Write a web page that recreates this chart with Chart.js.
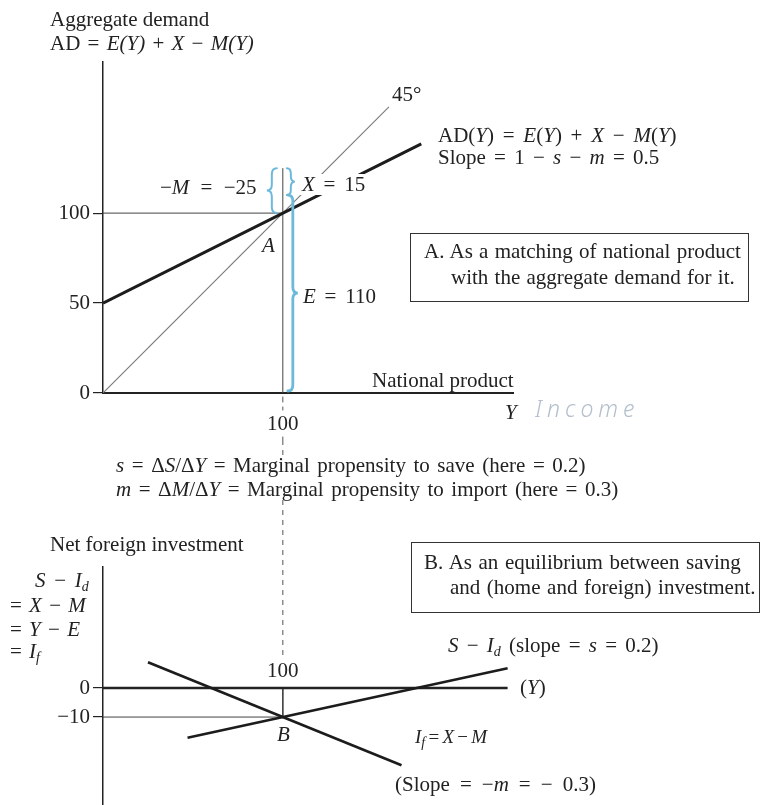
<!DOCTYPE html>
<html>
<head>
<meta charset="utf-8">
<script src="https://cdn.jsdelivr.net/npm/chart.js@4.4.1/dist/chart.umd.min.js"></script>
<style>
  html, body { margin: 0; padding: 0; background: #fff; }
  #page { position: relative; width: 760px; height: 805px; overflow: hidden;
          font-family: 'Liberation Serif', serif; color: #222; }
  canvas { position: absolute; left: 0; }
  .lbl { position: absolute; font-size: 21px; line-height: 21px; white-space: nowrap; }
  .lbl sub { font-size: 14px; line-height: 0; vertical-align: -4px; }
  .math { word-spacing: 3.5px; }
  .bg { background: #fff; padding: 0 2px; margin-left: -2px; }
  .box { position: absolute; border: 1.5px solid #333; box-sizing: border-box; }
  .hand { font-family: 'Noto Sans', sans-serif; font-style: italic; font-weight: 300;
          color: #b3bfcc; font-size: 23px; letter-spacing: 5px; }
</style>
</head>
<body>
<div id="page">
  <canvas id="chart-ad" width="760" height="440" style="top:0"></canvas>
  <canvas id="chart-nfi" width="760" height="365" style="top:440px"></canvas>
  <div class="box" style="left:410px;top:233px;width:339px;height:69px"></div>
  <div class="box" style="left:411px;top:542px;width:349px;height:71px"></div>
</div>
<script>
// Panel A: aggregate demand against national product
const productAD = [0, 177];
const demandAD = [50, 138.5];        // AD(Y), slope 0.5
const product45 = [0, 159];
const demand45 = [0, 159];
const equilibriumProduct = 100;
const equilibriumDemand = 100;
const spendingE = 110;
const exportsX = 15;
const importsM = 25;
const demandTicks = [0, 50, 100];

// Panel B: net foreign investment
const productSaving = [47, 225];
const savingLessInv = [-17.1, 6.8];  // S - I_d
const productForeign = [25, 166];
const foreignInv = [8.9, -26.6];     // I_f = X - M
const productZero = [0, 225];
const foreignTicks = [0, -10];
const equilibriumForeign = -10;

const ink = '#1c1c1c';
const braceBlue = '#6cb9dc';

Chart.defaults.font.family = "'Liberation Serif', serif";
Chart.defaults.font.size = 21;
Chart.defaults.color = '#222';

const pts = (xs, ys) => xs.map((x, i) => ({ x, y: ys[i] }));

function line(data, color, width) {
  return { data, showLine: true, borderColor: color, borderWidth: width,
           pointRadius: 0, fill: false, tension: 0 };
}

// curly brace between y1 (top) and y2 (bottom), cusp pointing to dir
function brace(ctx, x, y1, y2, w, dir) {
  const ym = (y1 + y2) / 2;
  const r = Math.min(6, (y2 - y1) / 5);
  const xm = x + dir * w / 2;
  ctx.beginPath();
  ctx.moveTo(x, y1);
  ctx.quadraticCurveTo(xm, y1, xm, y1 + r);
  ctx.lineTo(xm, ym - r);
  ctx.quadraticCurveTo(xm, ym, x + dir * w, ym);
  ctx.quadraticCurveTo(xm, ym, xm, ym + r);
  ctx.lineTo(xm, y2 - r);
  ctx.quadraticCurveTo(xm, y2, x, y2);
  ctx.stroke();
}

const adGuides = {
  id: 'adGuides',
  afterDatasetsDraw(chart) {
    const { ctx, chartArea, scales: { x, y } } = chart;
    const xe = x.getPixelForValue(equilibriumProduct);
    const top = y.getPixelForValue(spendingE + exportsX);
    ctx.save();
    ctx.strokeStyle = braceBlue;
    ctx.lineCap = 'round';
    ctx.lineWidth = 2.8;
    brace(ctx, xe + 5, y.getPixelForValue(spendingE), y.getPixelForValue(0) - 2, 10, 1);
    ctx.lineWidth = 2;
    brace(ctx, xe + 4, top, y.getPixelForValue(spendingE), 8, 1);
    // -M runs from E + X back down to the equilibrium level
    brace(ctx, xe - 6, top, y.getPixelForValue(spendingE + exportsX - importsM), 10, -1);
    // dashed drop line under the axis
    ctx.strokeStyle = '#555';
    ctx.lineWidth = 1;
    ctx.setLineDash([5, 5]);
    ctx.beginPath();
    ctx.moveTo(xe, chartArea.bottom + 4);
    ctx.lineTo(xe, chartArea.bottom + 17);
    ctx.moveTo(xe, chartArea.bottom + 44);
    ctx.lineTo(xe, chart.height);
    ctx.stroke();
    ctx.restore();
  }
};

new Chart(document.getElementById('chart-ad'), {
  type: 'scatter',
  data: {
    datasets: [
      line(pts(productAD, demandAD), ink, 3),
      line(pts(product45, demand45), '#777', 1.1),
      line(pts([equilibriumProduct, equilibriumProduct], [0, spendingE + exportsX]), '#444', 1),
      line(pts([0, equilibriumProduct], [equilibriumDemand, equilibriumDemand]), '#444', 1)
    ]
  },
  options: {
    responsive: false,
    animation: false,
    devicePixelRatio: 1,
    layout: { padding: { top: 62, right: 247, left: 0, bottom: 0 } },
    plugins: { legend: { display: false }, tooltip: { enabled: false } },
    scales: {
      x: {
        type: 'linear', min: 0, max: 228,
        afterBuildTicks: s => { s.ticks = [{ value: equilibriumProduct }]; },
        afterFit: s => { s.height = 47; },
        grid: { display: false, drawTicks: false },
        border: { display: true, color: '#222', width: 2 },
        ticks: { padding: 19, color: '#222' }
      },
      y: {
        type: 'linear', min: 0, max: 184,
        afterBuildTicks: s => { s.ticks = demandTicks.map(v => ({ value: v })); },
        afterFit: s => { s.width = 103; s.paddingTop = 0; s.paddingBottom = 0; },
        grid: { drawOnChartArea: false, tickLength: 10, color: '#222', lineWidth: 1.2 },
        border: { color: '#222', width: 1.5 },
        ticks: { padding: 3, color: '#222' }
      }
    }
  },
  plugins: [adGuides]
});

const nfiGuides = {
  id: 'nfiGuides',
  beforeDatasetsDraw(chart) {
    const { ctx, scales: { x, y } } = chart;
    const xe = x.getPixelForValue(equilibriumProduct);
    ctx.save();
    ctx.strokeStyle = '#555';
    ctx.lineWidth = 1;
    ctx.setLineDash([5, 5]);
    ctx.beginPath();
    ctx.moveTo(xe, 0);
    ctx.lineTo(xe, y.getPixelForValue(0) - 33);
    ctx.stroke();
    ctx.restore();
  }
};

new Chart(document.getElementById('chart-nfi'), {
  type: 'scatter',
  data: {
    datasets: [
      line(pts(productSaving, savingLessInv), ink, 2.6),
      line(pts(productForeign, foreignInv), ink, 2.6),
      line(pts(productZero, [0, 0]), '#222', 2.4),
      line(pts([equilibriumProduct, equilibriumProduct], [0, equilibriumForeign]), '#444', 1),
      line(pts([0, equilibriumProduct], [equilibriumForeign, equilibriumForeign]), '#444', 1)
    ]
  },
  options: {
    responsive: false,
    animation: false,
    devicePixelRatio: 1,
    layout: { padding: { top: 127, right: 247, left: 0, bottom: 0 } },
    plugins: { legend: { display: false }, tooltip: { enabled: false } },
    scales: {
      x: { type: 'linear', min: 0, max: 228, display: false },
      y: {
        type: 'linear', min: -40.3, max: 41.7,
        afterBuildTicks: s => { s.ticks = foreignTicks.map(v => ({ value: v })); },
        afterFit: s => { s.width = 103; s.paddingTop = 0; s.paddingBottom = 0; },
        grid: { drawOnChartArea: false, tickLength: 10, color: '#222', lineWidth: 1.2 },
        border: { color: '#222', width: 1.5 },
        ticks: { padding: 3, color: '#222', callback: v => String(v).replace('-', '\u2212') }
      }
    }
  },
  plugins: [nfiGuides]
});

// text set in the figure
const page = document.getElementById('page');
function label(html, x, baseline, cls, css) {
  const el = document.createElement('div');
  el.className = 'lbl' + (cls ? ' ' + cls : '');
  el.innerHTML = html;
  el.style.left = x + 'px';
  el.style.top = (baseline - 18) + 'px';
  if (css) el.style.cssText += css;
  page.appendChild(el);
  return el;
}

label('Aggregate demand', 50, 27);
label('AD = <i>E(Y)</i> + <i>X</i> \u2212 <i>M(Y)</i>', 50, 51, 'math', 'word-spacing:2px');
label('45\u00b0', 392, 102);
label('AD(<i>Y</i>) = <i>E</i>(<i>Y</i>) + <i>X</i> \u2212 <i>M</i>(<i>Y</i>)', 438, 143, 'math');
label('Slope = 1 \u2212 <i>s</i> \u2212 <i>m</i> = 0.5', 438, 165, 'math', 'word-spacing:3px');
label('\u2212<i>M</i> = \u221225', 160, 195, 'math', 'word-spacing:6px');
label('<i>X</i> = 15', 302, 192, 'math bg');
label('<i>A</i>', 262, 253);
label('<i>E</i> = 110', 303, 304, 'math');
label('National product', 372, 388);
label('<i>Y</i>', 505, 420);
label('Income', 535, 416, 'hand');
label('A. As a matching of national product', 424, 259, '', 'word-spacing:1px');
label('with the aggregate demand for it.', 451, 285, '', 'word-spacing:1px');

label('<i>s</i> = \u0394<i>S</i>/\u0394<i>Y</i> = Marginal propensity to save (here = 0.2)', 116, 473, 'math bg', 'word-spacing:2.3px');
label('<i>m</i> = \u0394<i>M</i>/\u0394<i>Y</i> = Marginal propensity to import (here = 0.3)', 116, 497, 'math bg', 'word-spacing:2.3px');

label('Net foreign investment', 50, 552);
label('<i>S</i> \u2212 <i>I<sub>d</sub></i>', 35, 588, 'math');
label('= <i>X</i> \u2212 <i>M</i>', 10, 613, 'math', 'word-spacing:2px');
label('= <i>Y</i> \u2212 <i>E</i>', 10, 637, 'math', 'word-spacing:2px');
label('= <i>I<sub>f</sub></i>', 10, 659, 'math', 'word-spacing:2px');
label('100', 267, 678);
label('<i>B</i>', 277, 742);
label('B. As an equilibrium between saving', 424, 570, '', 'word-spacing:1.3px');
label('and (home and foreign) investment.', 450, 595, '', 'word-spacing:1.3px');
label('<i>S</i> \u2212 <i>I<sub>d</sub></i> (slope = <i>s</i> = 0.2)', 448, 653, 'math', 'word-spacing:3px');
label('(<i>Y</i>)', 520, 695);
label('<i>I<sub>f</sub></i> = <i>X</i> \u2212 <i>M</i>', 415, 744, 'math', 'font-size:19px;word-spacing:-1.5px');
label('(Slope = \u2212<i>m</i> = \u2212 0.3)', 395, 792, 'math', 'word-spacing:4.8px');
</script>
</body>
</html>
